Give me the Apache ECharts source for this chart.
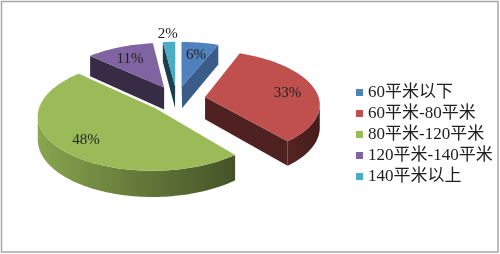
<!DOCTYPE html>
<html><head><meta charset="utf-8">
<script src="https://cdn.jsdelivr.net/npm/echarts@6/dist/echarts.min.js"></script>
<style>html,body{margin:0;padding:0;background:#fff}#c{width:500px;height:254px}</style>
</head><body><div id="c"></div>
<script>
// ---- data ----
const categories = ['60平米以下', '60平米-80平米', '80平米-120平米', '120平米-140平米', '140平米以上'];
const values = [6, 33, 48, 11, 2];
const colors = ['#4F81BD', '#C0504D', '#9BBB59', '#8064A2', '#4BACC6'];

// ---- 3D pie geometry (layout, not data) ----
const GEO = { cx: 176.8, cy: 99, rx: 114, ry: 52.6, depth: 22.5, explode: 0.252, persp: 0.12 };
const total = values.reduce((a, b) => a + b, 0);
const starts = [];
(function () { let acc = 0; values.forEach(v => { starts.push(acc / total * 360); acc += v; }); })();

const rad = d => d * Math.PI / 180;
function proj(X, Y, down) {
  const s = 1 / (1 + GEO.persp * Y);
  return [GEO.cx + GEO.rx * X * s, GEO.cy + (-GEO.ry * Y + GEO.depth * down) * s];
}
function shade(hex, f) {
  const n = parseInt(hex.slice(1), 16);
  const r = Math.round(((n >> 16) & 255) * f), g = Math.round(((n >> 8) & 255) * f), b = Math.round((n & 255) * f);
  return 'rgb(' + r + ',' + g + ',' + b + ')';
}

function renderItem(params, api) {
  const i = params.seriesIndex;
  const base = colors[i];
  const a0 = starts[i], a1 = a0 + api.value(0) / total * 360, mid = (a0 + a1) / 2;
  const ox = GEO.explode * Math.sin(rad(mid)), oy = GEO.explode * Math.cos(rad(mid));
  const camY = -1 / GEO.persp;
  const steps = Math.max(2, Math.ceil((a1 - a0) / 1.5));
  const angs = [];
  for (let k = 0; k <= steps; k++) angs.push(a0 + (a1 - a0) * k / steps);
  const P = (t, down) => proj(ox + Math.sin(rad(t)), oy + Math.cos(rad(t)), down);
  const children = [];

  // curved outer wall (front-facing part)
  const run = angs.filter(t => {
    const s = Math.sin(rad(t)), c = Math.cos(rad(t));
    return (-(ox + s)) * s + (camY - oy - c) * c > 0;
  });
  if (run.length >= 2) {
    const pts = run.map(t => P(t, 0)).concat(run.slice().reverse().map(t => P(t, 1)));
    const xs = run.map(t => P(t, 0)[0]);
    const minX = Math.min.apply(null, xs), maxX = Math.max.apply(null, xs);
    const stops = run.map((t, k) => ({
      offset: maxX > minX ? (xs[k] - minX) / (maxX - minX) : 0,
      color: shade(base, Math.max(0.3, Math.min(0.95, 0.62 - 0.28 * Math.sin(rad(t)))))
    })).sort((a, b) => a.offset - b.offset);
    children.push({
      type: 'polygon', z2: 1, shape: { points: pts },
      style: { fill: { type: 'linear', x: 0, y: 0, x2: 1, y2: 0, colorStops: stops }, stroke: null }
    });
  }
  // radial faces
  const faces = [[a1, Math.cos(rad(a1)), -Math.sin(rad(a1))], [a0, -Math.cos(rad(a0)), Math.sin(rad(a0))]];
  faces.forEach(([t, nx, ny]) => {
    if ((-ox) * nx + (camY - oy) * ny > 0) {
      const pts = [proj(ox, oy, 0), P(t, 0), P(t, 1), proj(ox, oy, 1)];
      children.push({
        type: 'polygon', z2: 2, shape: { points: pts },
        style: { fill: shade(base, 0.55 + 0.18 * nx), stroke: null }
      });
    }
  });
  // top face
  const top = [proj(ox, oy, 0)].concat(angs.map(t => P(t, 0)));
  children.push({ type: 'polygon', z2: 10, shape: { points: top }, style: { fill: base, stroke: null } });
  // label
  const frac = api.value(0) / total;
  const lr = frac < 0.04 ? 1.25 : 0.75;
  const lp = proj(ox + lr * Math.sin(rad(mid)), oy + lr * Math.cos(rad(mid)), 0);
  children.push({
    type: 'text', z2: 20,
    style: {
      text: Math.round(frac * 100) + '%', x: lp[0], y: lp[1] + 2, align: 'center', verticalAlign: 'middle',
      fontSize: 15, fontFamily: "'Liberation Serif', 'Noto Sans CJK SC', serif", fill: '#222'
    }
  });
  return { type: 'group', children };
}

const chart = echarts.init(document.getElementById('c'), null, { renderer: 'canvas' });
chart.setOption({
  animation: false,
  backgroundColor: '#fff',
  color: colors,
  legend: {
    orient: 'vertical', left: 351, top: 79, itemWidth: 7, itemHeight: 7, itemGap: 4, icon: 'rect',
    data: categories,
    textStyle: { fontSize: 17, lineHeight: 17, color: '#1e1e1e', fontFamily: "'Liberation Serif', 'Noto Sans CJK SC', serif" }
  },
  graphic: [{
    type: 'rect', silent: true, shape: { x: 1.5, y: 1.5, width: 496.5, height: 250.5 },
    style: { fill: 'none', stroke: '#a8a8a8', lineWidth: 1.5 }
  }],
  series: categories.map((name, i) => ({
    type: 'custom', name: name, coordinateSystem: 'none', renderItem: renderItem,
    data: [values[i]]
  }))
});
</script></body></html>
